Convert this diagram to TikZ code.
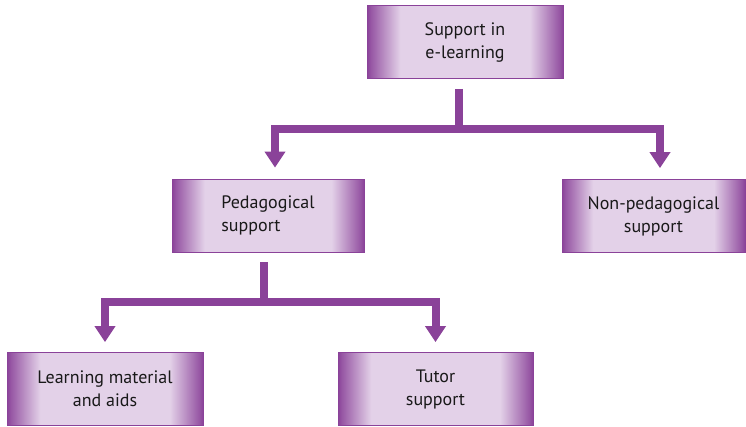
\documentclass[tikz,border=0pt]{standalone}
\usepackage{fontspec}
\setmainfont{PT Sans}
\usetikzlibrary{arrows.meta}
\definecolor{plum}{HTML}{8A4299}
\definecolor{lilac}{HTML}{E3D1E8}
% only the middle 50bp of a shading are shown on a node, so the stops sit in 25..75
\pgfdeclarehorizontalshading{boxshade}{100bp}{%
  color(0bp)=(plum); color(25bp)=(plum); color(26bp)=(plum!85!lilac);
  color(33.5bp)=(lilac); color(66.5bp)=(lilac); color(74bp)=(plum!85!lilac);
  color(75bp)=(plum); color(100bp)=(plum)}
\tikzset{
  box/.style={draw=plum, line width=0.8pt, shading=boxshade,
    minimum height=73pt, inner sep=0pt, font=\fontsize{18}{23}\selectfont,
    text=black!90},
  conn/.style={draw=plum, line width=8pt, line join=miter},
  tips/.style={{Triangle[width=20pt,length=16pt]}-{Triangle[width=20pt,length=16pt]}}
}
\begin{document}
\begin{tikzpicture}[x=1pt,y=1pt]
\useasboundingbox (0,0) rectangle (746,-426);

% boxes
\node[box, minimum width=196pt, align=center] (top) at (465,-42) {Support in\\e-learning};
\node[box, minimum width=192pt, align=left]   (ped) at (268,-215.5) {Pedagogical\\support};
\node[box, minimum width=183pt, align=center] (non) at (653.5,-216) {Non-pedagogical\\support};
\node[box, minimum width=196pt, align=center] (lrn) at (105,-389) {Learning material\\and aids};
\node[box, minimum width=195pt, align=center] (tut) at (435.5,-389) {Tutor\\support};

% junction points of the connectors
\coordinate (bar1) at (459,-129);
\coordinate (bar2) at (263.5,-302);

% first level
\draw[conn] ([yshift=-10pt]top.south -| bar1) -- (bar1);
\draw[conn, tips] ([yshift=11pt]ped.north -| 275,0) |- (bar1) -| ([yshift=11pt]non.north -| 660,0);

% second level
\draw[conn] ([yshift=-10pt]ped.south -| bar2) -- (bar2);
\draw[conn, tips] ([yshift=10pt]lrn.north) |- (bar2) -| ([yshift=10pt]tut.north);
\end{tikzpicture}
\end{document}
